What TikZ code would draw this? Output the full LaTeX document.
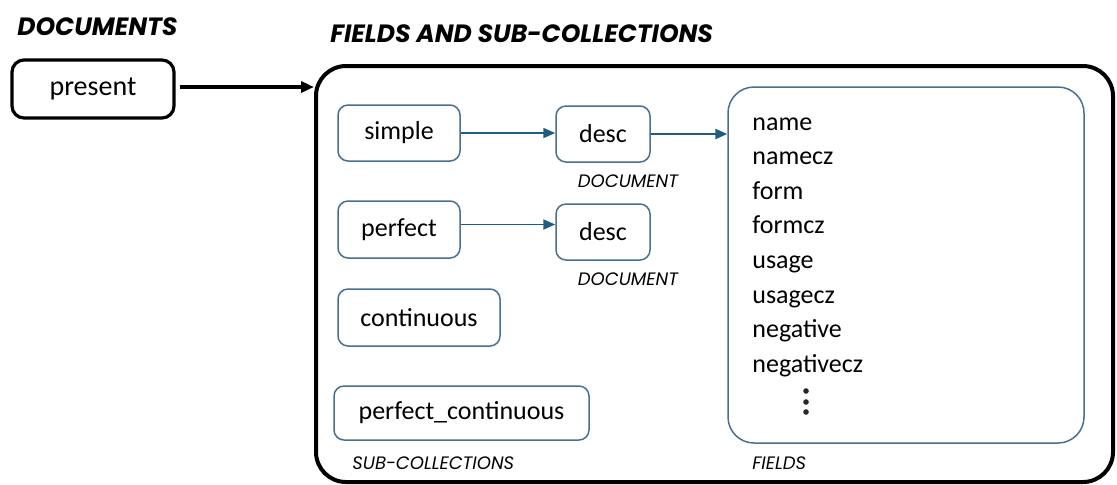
\documentclass[tikz,border=0pt]{standalone}
\usepackage{fontspec}
\setmainfont{Carlito}
\newfontfamily\hdrfont{Poppins}
\usetikzlibrary{arrows.meta}
\definecolor{boxblue}{RGB}{72,112,142}
\definecolor{arrowblue}{RGB}{30,92,128}
\tikzset{
  sub/.style={draw=boxblue, line width=0.75pt, rounded corners=5pt, inner sep=0pt,
              font=\fontsize{13}{15}\selectfont, text=black},
  doc/.style={draw=black, line width=1.6pt, rounded corners=6pt, inner sep=0pt,
              font=\fontsize{14}{16}\selectfont},
  outer/.style={draw=black, line width=2pt, rounded corners=15pt, inner sep=0pt},
  fieldbox/.style={draw=boxblue, line width=0.75pt, rounded corners=13pt, inner sep=0pt},
  heading/.style={font=\hdrfont\bfseries\itshape\fontsize{12.5}{14}\selectfont, anchor=west, inner sep=0pt},
  caption/.style={font=\hdrfont\itshape\fontsize{9}{11}\selectfont, inner sep=0pt},
  fielditem/.style={font=\fontsize{13}{15}\selectfont, anchor=base west, inner sep=0pt},
  bluearrow/.style={draw=arrowblue, line width=0.9pt, -{Triangle[length=6pt,width=5pt]}},
  blackarrow/.style={draw=black, line width=1.7pt, -{Triangle[length=6.5pt,width=5.5pt]}},
}
\begin{document}
\begin{tikzpicture}[x=0.5pt,y=-0.5pt]
\useasboundingbox (0,0) rectangle (1117,484);

% headings
\node[heading] (hdocs) at (17,27) {DOCUMENTS};
\node[heading] (hfields) at (330,34) {FIELDS AND SUB-COLLECTIONS};

% top-level document
\node[doc, minimum width=81pt, minimum height=29pt] (present) at (93,89) {present};

% container of fields and sub-collections
\node[outer, minimum width=398.5pt, minimum height=208pt] (fsc) at (714.5,274) {};

% sub-collections
\node[sub, minimum width=61pt, minimum height=28pt] (simple) at (399,133) {simple};
\node[sub, minimum width=47pt, minimum height=28pt] (desc1) at (603,134) {desc};
\node[sub, minimum width=61pt, minimum height=28.5pt] (perfect) at (399,229.5) {perfect};
\node[sub, minimum width=47pt, minimum height=28pt] (desc2) at (603,232) {desc};
\node[sub, minimum width=81pt, minimum height=28.5pt] (continuous) at (419,317.5) {continuous};
\node[sub, minimum width=127.5pt, minimum height=27pt] (pcont) at (461.5,413) {perfect\_continuous};

\node[caption] (cap1) at (628,181) {DOCUMENT};
\node[caption] (cap2) at (628,279) {DOCUMENT};
\node[caption, anchor=west] (capsub) at (352,463) {SUB-COLLECTIONS};

% fields
\node[fieldbox, minimum width=178pt, minimum height=178pt] (fields) at (906,265) {};
\node[caption, anchor=west] (capfields) at (752,463) {FIELDS};
\foreach \name [count=\i from 0] in {name,namecz,form,formcz,usage,usagecz,negative,negativecz}
  \node[fielditem] (f\i) at (752,{130+34.6*\i}) {\name};
\foreach \yy in {391,402,412}
  \fill[black!85] (806,\yy) circle (2.8);

% connectors
\draw[blackarrow] (present.east) ++(2pt,1pt) coordinate (pstart) -- (pstart -| fsc.west);
\draw[bluearrow] (simple.east) -- (simple.east -| desc1.west);
\draw[bluearrow, line width=1.2pt] (desc1.east) -- (desc1.east -| fields.west);
\draw[bluearrow] (perfect.east) ++(0,2.5pt) coordinate (pfstart) -- (pfstart -| desc2.west);
\end{tikzpicture}
\end{document}
